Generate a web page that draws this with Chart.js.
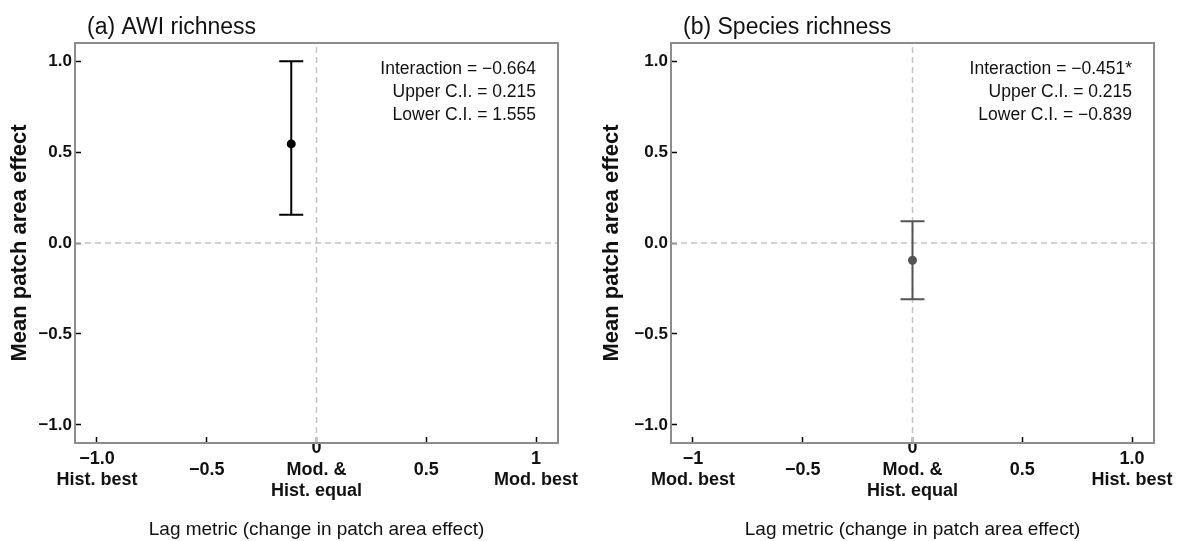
<!DOCTYPE html>
<html>
<head>
<meta charset="utf-8">
<script src="https://cdn.jsdelivr.net/npm/chart.js@4.4.1/dist/chart.umd.min.js"></script>
<style>
  html, body { margin: 0; padding: 0; background: #fff; }
  #wrap { position: relative; width: 1185px; height: 541px; }
  #panelA { position: absolute; left: 0; top: 0; }
  #panelB { position: absolute; left: 592px; top: 0; }
</style>
</head>
<body>
<div id="wrap">
  <canvas id="panelA" width="592" height="541"></canvas>
  <canvas id="panelB" width="593" height="541"></canvas>
</div>
<script>
// shared axis ticks
const xTickValues = [-1, -0.5, 0, 0.5, 1];
const yTickValues = [1, 0.5, 0, -0.5, -1];
const yTickLabels = ['1.0', '0.5', '0.0', '\u22120.5', '\u22121.0'];
const axisMin = -1.1;
const axisMax = 1.1;

// (a) AWI richness
const awiXLabels = [['\u22121.0', 'Hist. best'], '\u22120.5', ['0', 'Mod. &', 'Hist. equal'], '0.5', ['1', 'Mod. best']];
const awiLag = [-0.115];
const awiMean = [0.545];
const awiLower = [0.155];
const awiUpper = [1.0];
const awiNotes = ['Interaction = \u22120.664', 'Upper C.I. = 0.215', 'Lower C.I. = 1.555'];

// (b) Species richness
const sppXLabels = [['\u22121', 'Mod. best'], '\u22120.5', ['0', 'Mod. &', 'Hist. equal'], '0.5', ['1.0', 'Hist. best']];
const sppLag = [0];
const sppMean = [-0.095];
const sppLower = [-0.31];
const sppUpper = [0.12];
const sppNotes = ['Interaction = \u22120.451*', 'Upper C.I. = 0.215', 'Lower C.I. = \u22120.839'];

const FONT = '"Liberation Sans", Arial, sans-serif';

// error bars, frame, panel title and the text block in the corner
const panelDecor = {
  id: 'panelDecor',
  beforeDatasetDraw(chart, args) {
    const ds = chart.data.datasets[args.index];
    if (!ds.errLow) return;
    const { ctx, scales: { x, y } } = chart;
    ctx.save();
    ctx.strokeStyle = ds.errColor;
    ctx.lineWidth = 2;
    ds.data.forEach((p, i) => {
      const px = x.getPixelForValue(p.x);
      const lo = y.getPixelForValue(ds.errLow[i]);
      const hi = y.getPixelForValue(ds.errHigh[i]);
      ctx.beginPath();
      ctx.moveTo(px, lo); ctx.lineTo(px, hi);
      ctx.moveTo(px - 12, lo); ctx.lineTo(px + 12, lo);
      ctx.moveTo(px - 12, hi); ctx.lineTo(px + 12, hi);
      ctx.stroke();
    });
    ctx.restore();
  },
  afterDraw(chart, args, opts) {
    const { ctx, chartArea: a, scales: { x } } = chart;
    ctx.save();
    ctx.strokeStyle = '#8c8c8c';
    ctx.lineWidth = 2;
    ctx.strokeRect(a.left, a.top, a.right - a.left, a.bottom - a.top);

    ctx.fillStyle = '#111';
    ctx.textBaseline = 'middle';
    ctx.textAlign = 'left';
    ctx.font = '23px ' + FONT;
    ctx.fillText(opts.title, a.left + 12, 28);

    ctx.textAlign = 'right';
    ctx.font = '17.5px ' + FONT;
    const rx = x.getPixelForValue(1);
    opts.notes.forEach((t, i) => ctx.fillText(t, rx, a.top + 26 + i * 23));
    ctx.restore();
  }
};

function makePanel(id, o) {
  return new Chart(document.getElementById(id), {
    type: 'scatter',
    data: {
      datasets: [
        {
          data: o.lag.map((v, i) => ({ x: v, y: o.mean[i] })),
          errLow: o.lower,
          errHigh: o.upper,
          errColor: o.color,
          pointRadius: 4.5,
          pointBackgroundColor: o.color,
          pointBorderColor: o.color,
          pointBorderWidth: 0
        },
        {
          data: [{ x: 0, y: axisMin }, { x: 0, y: axisMax }],
          showLine: true, pointRadius: 0,
          borderColor: '#c4c4c4', borderWidth: 1.5, borderDash: [6, 4]
        },
        {
          data: [{ x: axisMin, y: 0 }, { x: axisMax, y: 0 }],
          showLine: true, pointRadius: 0,
          borderColor: '#c4c4c4', borderWidth: 1.5, borderDash: [6, 4]
        }
      ]
    },
    options: {
      responsive: false,
      animation: false,
      layout: { padding: { top: 43, right: o.padRight, left: 0, bottom: 0 } },
      plugins: {
        legend: { display: false },
        tooltip: { enabled: false },
        panelDecor: { title: o.title, notes: o.notes }
      },
      scales: {
        x: {
          type: 'linear', min: axisMin, max: axisMax,
          afterBuildTicks: s => { s.ticks = xTickValues.map(v => ({ value: v })); },
          afterFit: s => { s.height = 98; },
          border: { display: false },
          grid: { drawOnChartArea: false, tickLength: -6, tickColor: '#000', tickWidth: 1.5 },
          ticks: {
            autoSkip: false, maxRotation: 0, crossAlign: 'center', padding: 11,
            color: '#111', font: { family: FONT, size: 18, weight: 'bold', lineHeight: 1.2 },
            callback: (v, i) => o.xLabels[i]
          },
          title: {
            display: true, text: 'Lag metric (change in patch area effect)',
            color: '#111', font: { family: FONT, size: 19 }, padding: { top: 0, bottom: 0 }
          }
        },
        y: {
          type: 'linear', min: axisMin, max: axisMax,
          afterBuildTicks: s => { s.ticks = yTickValues.map(v => ({ value: v })); },
          afterFit: s => { s.width = o.yWidth; },
          border: { display: false },
          grid: { drawOnChartArea: false, tickLength: -6, tickColor: '#000', tickWidth: 1.5 },
          ticks: {
            padding: 9, color: '#111',
            font: { family: FONT, size: 17, weight: 'bold' },
            callback: (v, i) => yTickLabels[i]
          },
          title: {
            display: true, text: 'Mean patch area effect',
            color: '#111', font: { family: FONT, size: 22, weight: 'bold' }, padding: { top: 7, bottom: 0 }
          }
        }
      }
    },
    plugins: [panelDecor]
  });
}

makePanel('panelA', {
  title: '(a) AWI richness', notes: awiNotes, xLabels: awiXLabels,
  lag: awiLag, mean: awiMean, lower: awiLower, upper: awiUpper,
  color: '#000', yWidth: 75, padRight: 34
});

makePanel('panelB', {
  title: '(b) Species richness', notes: sppNotes, xLabels: sppXLabels,
  lag: sppLag, mean: sppMean, lower: sppLower, upper: sppUpper,
  color: '#555', yWidth: 79, padRight: 31
});
</script>
</body>
</html>
